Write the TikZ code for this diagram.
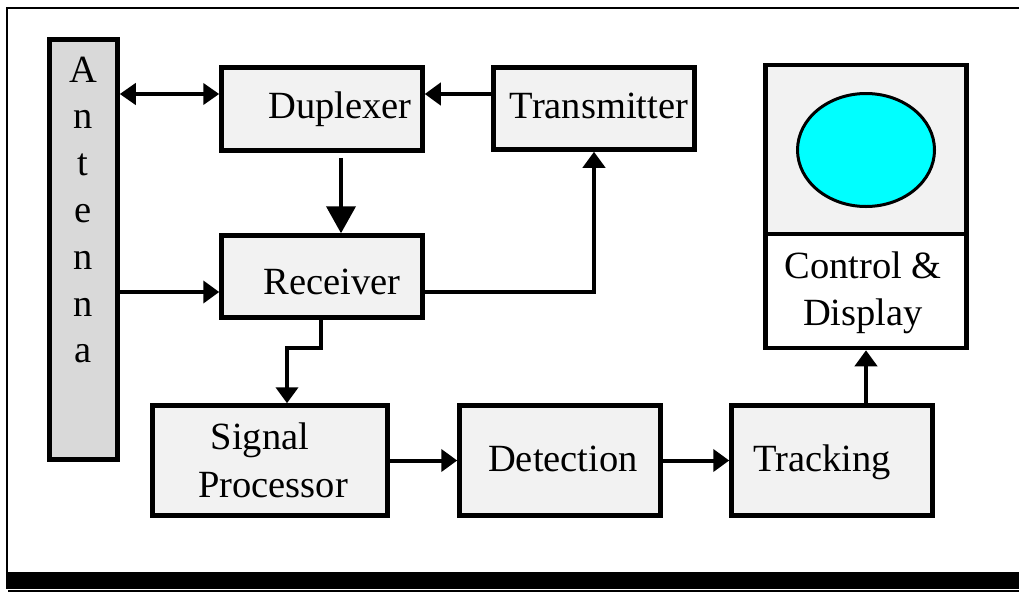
\documentclass[tikz,border=0pt]{standalone}
\usepackage{fontspec}
\setmainfont{Liberation Serif}
\usetikzlibrary{arrows.meta,shapes.geometric,calc}
\definecolor{boxgray}{HTML}{F2F2F2}
\definecolor{antgray}{HTML}{D9D9D9}
\definecolor{scrcyan}{HTML}{00FFFF}
\begin{document}
\begin{tikzpicture}[x=1pt,y=-1pt,
  blk/.style={draw=black,line width=4.5pt,fill=boxgray,rectangle,inner sep=0pt},
  lbl/.style={font=\fontsize{38.5}{46}\selectfont,inner sep=0pt,anchor=base},
  arr/.style={line width=4pt,-{Triangle[length=16pt,width=22pt]}},
  dbl/.style={line width=4pt,{Triangle[length=16pt,width=21pt]}-{Triangle[length=16pt,width=21pt]}},
  bigarr/.style={line width=4pt,-{Triangle[length=27pt,width=29pt]}}]
\useasboundingbox (0,0) rectangle (1019,592);
% frame
\draw[line width=2.5pt] (7,572) -- (7,8) -- (1019,8);
\fill (6,572) rectangle (1019,589);
\draw[line width=1.5pt] (8,591) -- (1019,591);
% boxes
\node[blk,fill=antgray,minimum width=68pt,minimum height=420pt] (ant) at (83.5,249.5) {};
\node[blk,minimum width=201pt,minimum height=83pt] (dup) at (322,109) {};
\node[blk,minimum width=201pt,minimum height=82pt] (tx) at (594,108.5) {};
\node[blk,minimum width=201pt,minimum height=82pt] (rx) at (322,276.5) {};
\node[blk,minimum width=235pt,minimum height=110pt] (sp) at (270,460.5) {};
\node[blk,minimum width=201pt,minimum height=110pt] (det) at (560,460.5) {};
\node[blk,minimum width=201pt,minimum height=110pt] (trk) at (832,460.5) {};
\node[blk,minimum width=201pt,minimum height=169pt] (ctltop) at (866,149.5) {};
\node[blk,fill=white,minimum width=201pt,minimum height=114pt] (ctlbot) at (866,291) {};
\node[ellipse,draw=black,line width=3pt,fill=scrcyan,minimum width=137pt,minimum height=113pt,inner sep=0pt] (screen) at (866,150) {};
% labels
\foreach \ch [count=\i from 0] in {A,n,t,e,n,n,a}
  \node[lbl] (antl\i) at (83,{82+46.8*\i}) {\ch};
\node[lbl] (duplbl) at (340,118) {Duplexer};
\node[lbl] (txlbl) at (599,118) {Transmitter};
\node[lbl] (rxlbl) at (332,294) {Receiver};
\node[lbl] (splbl1) at (260,449) {Signal};
\node[lbl] (splbl2) at (273,497) {Processor};
\node[lbl] (detlbl) at (563,471) {Detection};
\node[lbl] (trklbl) at (822,471) {Tracking};
\node[lbl] (ctllbl1) at (863,278) {Control \&};
\node[lbl] (ctllbl2) at (863,325) {Display};
% connectors
\draw[dbl] (ant.east |- 0,94) -- (dup.west |- 0,94);
\draw[arr] (tx.west |- 0,94) -- (dup.east |- 0,94);
\draw[bigarr] ($(dup.south -| 341,0)+(0,5)$) -- (rx.north -| 341,0);
\draw[arr] (ant.east |- 0,292) -- (rx.west |- 0,292);
\draw[arr] (rx.east |- 0,292) -| (tx.south);
\draw[arr] (rx.south -| 321,0) |- (287,348) -- (sp.north -| 287,0);
\draw[arr] (sp.east) -- (det.west);
\draw[arr] (det.east) -- (trk.west);
\draw[arr] (trk.north -| 866,0) -- (ctlbot.south);
\end{tikzpicture}
\end{document}
